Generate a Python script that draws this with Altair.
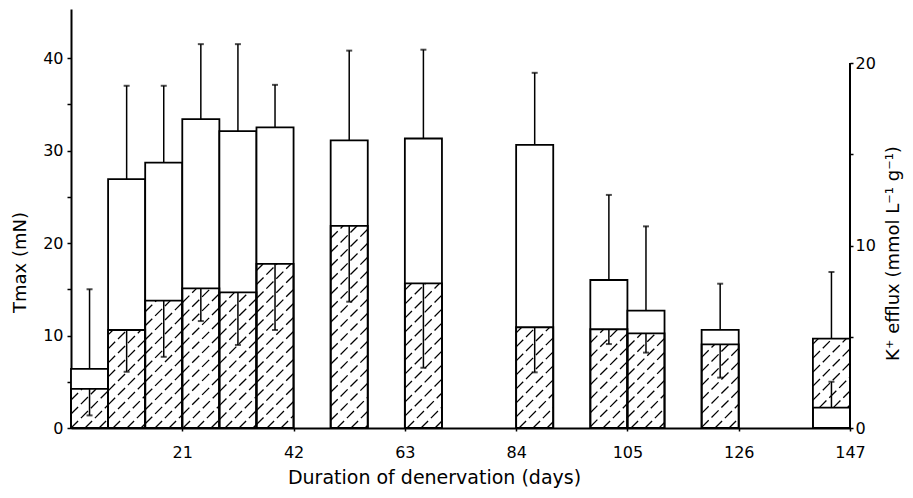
import altair as alt
import pandas as pd
import numpy as np

# ---- data ----
day_start = [0, 7, 14, 21, 28, 35, 49, 63, 84, 98, 105, 119, 140]
day_end = [7, 14, 21, 28, 35, 42, 56, 70, 91, 105, 112, 126, 147]
tmax = [6.4, 26.9, 28.7, 33.4, 32.1, 32.5, 31.1, 31.3, 30.6, 16.0, 12.7, 10.6, 2.2]
tmax_sd = [8.6, 10.1, 8.3, 8.1, 9.4, 4.6, 9.7, 9.6, 7.8, 9.2, 9.1, 5.0, 2.8]
kplus = [2.14, 5.37, 6.98, 7.65, 7.43, 8.99, 11.08, 7.93, 5.52, 5.41, 5.19, 4.58, 4.90]
kplus_sd = [1.45, 2.29, 3.08, 1.79, 2.88, 3.62, 4.16, 4.63, 2.47, 0.81, 1.06, 1.82, 3.65]
k_err_dir = [-1, -1, -1, -1, -1, -1, -1, -1, -1, -1, -1, -1, 1]

x_ticks = [21, 42, 63, 84, 105, 126, 147]
left_ticks = [0, 5, 10, 15, 20, 25, 30, 35, 40]
right_ticks = [0, 5, 10, 15, 20]
right_axis_span = [0, 20]

X_DOM = [0, 147]
T_DOM = [0, 45.3]
K_DOM = [0, 22.96]
W, H = 779, 419

FONT = "DejaVu Sans"

df = pd.DataFrame({
    "start": day_start, "end": day_end,
    "tmax": tmax, "tmax_sd": tmax_sd,
    "kplus": kplus, "kplus_sd": kplus_sd, "kdir": k_err_dir,
})
df["center"] = (df["start"] + df["end"]) / 2
df["zero"] = 0.0
df["t_hi"] = df["tmax"] + df["tmax_sd"]
df["k_end"] = df["kplus"] + df["kdir"] * df["kplus_sd"]

# ---- hatch segments (45 degree dashed lines inside hatched bars) ----
ppd = W / (X_DOM[1] - X_DOM[0])
ppk = H / (K_DOM[1] - K_DOM[0])
k_per_t = (K_DOM[1] - K_DOM[0]) / (T_DOM[1] - T_DOM[0])
spacing = 14.0
segs = []
for s, e, t, k in zip(day_start, day_end, tmax, kplus):
    t_in_k = t * k_per_t
    yb = t_in_k if t_in_k < k else 0.0
    X0, X1 = s * ppd, e * ppd
    hb, ht = yb * ppk, k * ppk
    cmin, cmax = hb - X1, ht - X0
    for n in range(int(np.floor(cmin / spacing)), int(np.ceil(cmax / spacing)) + 1):
        c = n * spacing
        xa = max(X0, hb - c)
        xb = min(X1, ht - c)
        if xb - xa > 0.8:
            segs.append({"hx": xa / ppd, "hy": (xa + c) / ppk,
                         "hx2": xb / ppd, "hy2": (xb + c) / ppk})
hatch_df = pd.DataFrame(segs)

# ---- scales / axes ----
xs = alt.Scale(domain=X_DOM, nice=False, zero=False)
ts = alt.Scale(domain=T_DOM, nice=False)
ks = alt.Scale(domain=K_DOM, nice=False)

x_axis = alt.Axis(values=x_ticks, title="Duration of denervation (days)",
                  tickSize=3, labelPadding=13, labelFlush=False, titleFontSize=19,
                  titleX=363, titleY=49, titleAlign="center", titleBaseline="middle")
left_axis = alt.Axis(orient="left", values=left_ticks,
                     labelExpr="datum.value % 10 == 0 ? datum.label : ''",
                     tickSize=4, labelPadding=4, title="Tmax (mN)",
                     titleX=-51, titleY=253, titleAngle=270,
                     titleAlign="center", titleBaseline="middle")
right_axis = alt.Axis(orient="right", values=right_ticks,
                      labelExpr="datum.value % 10 == 0 ? datum.label : ''",
                      tickSize=3, labelPadding=2, domain=False,
                      title="K⁺ efflux (mmol L⁻¹ g⁻¹)",
                      titleX=43, titleY=244, titleAngle=270,
                      titleAlign="center", titleBaseline="middle")

base = alt.Chart(df)

open_bars = base.mark_rect(fill="white", stroke="black", strokeWidth=1.8).encode(
    x=alt.X("start:Q", scale=xs, axis=x_axis),
    x2="end:Q",
    y=alt.Y("tmax:Q", scale=ts, axis=left_axis),
    y2="zero:Q",
)
t_err = base.mark_rule(color="black", strokeWidth=1.5).encode(
    x=alt.X("center:Q", scale=xs, axis=x_axis),
    y=alt.Y("tmax:Q", scale=ts, axis=left_axis),
    y2="t_hi:Q",
)
t_cap = base.mark_tick(orient="horizontal", color="black", size=6, thickness=2).encode(
    x=alt.X("center:Q", scale=xs, axis=x_axis),
    y=alt.Y("t_hi:Q", scale=ts, axis=left_axis),
)
group_t = alt.layer(open_bars, t_err, t_cap)

k_bars = base.mark_rect(fill="transparent", stroke="black", strokeWidth=1.8).encode(
    x=alt.X("start:Q", scale=xs, axis=x_axis),
    x2="end:Q",
    y=alt.Y("kplus:Q", scale=ks, axis=right_axis),
    y2="zero:Q",
)
hatch = alt.Chart(hatch_df).mark_rule(color="black", strokeWidth=1.3, strokeDash=[10, 4]).encode(
    x=alt.X("hx:Q", scale=xs, axis=x_axis),
    x2="hx2:Q",
    y=alt.Y("hy:Q", scale=ks, axis=right_axis),
    y2="hy2:Q",
)
k_err = base.mark_rule(color="black", strokeWidth=1.5).encode(
    x=alt.X("center:Q", scale=xs, axis=x_axis),
    y=alt.Y("kplus:Q", scale=ks, axis=right_axis),
    y2="k_end:Q",
)
k_cap = base.mark_tick(orient="horizontal", color="black", size=6, thickness=2).encode(
    x=alt.X("center:Q", scale=xs, axis=x_axis),
    y=alt.Y("k_end:Q", scale=ks, axis=right_axis),
)
r_axis_line = alt.Chart(pd.DataFrame({"lo": [right_axis_span[0]], "hi": [right_axis_span[1]],
                                      "xpos": [X_DOM[1]]})).mark_rule(
    color="black", strokeWidth=2).encode(
    x=alt.X("xpos:Q", scale=xs, axis=x_axis),
    y=alt.Y("lo:Q", scale=ks, axis=right_axis),
    y2="hi:Q",
)
group_k = alt.layer(k_bars, hatch, k_err, k_cap, r_axis_line)

chart = alt.layer(group_t, group_k).resolve_scale(y="independent").properties(
    width=W, height=H,
    autosize=alt.AutoSizeParams(type="none"),
    padding={"left": 63, "top": 1, "right": 55, "bottom": 62},
).configure_view(stroke=None).configure_axis(
    grid=False, domainColor="black", domainWidth=2, tickColor="black", tickWidth=1.5,
    labelColor="black", titleColor="black", labelFont=FONT, titleFont=FONT,
    labelFontSize=16, titleFontSize=18, titleFontWeight="normal",
)

chart.save("out.html", embed_options={"renderer": "svg", "actions": False})
